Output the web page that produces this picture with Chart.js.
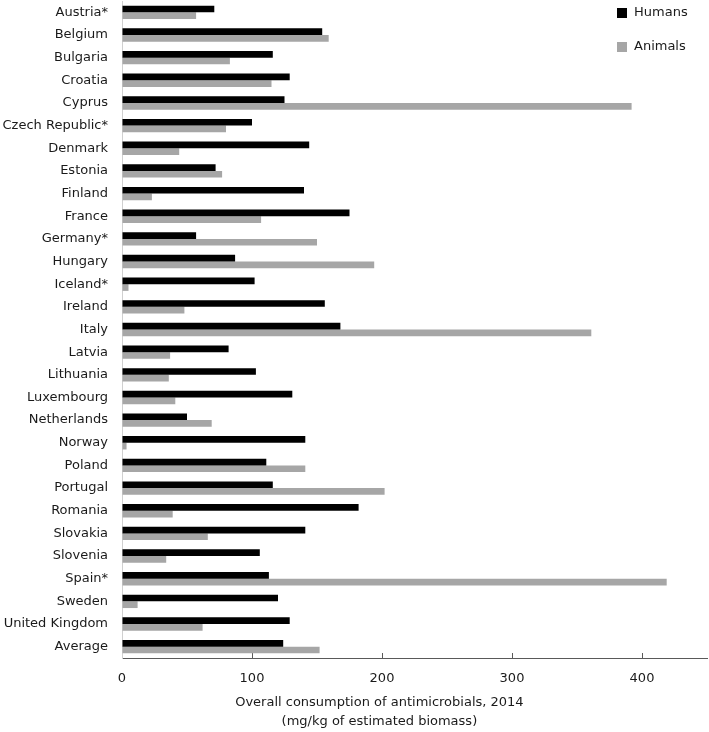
<!DOCTYPE html>
<html>
<head>
<meta charset="utf-8">
<script src="https://cdn.jsdelivr.net/npm/chart.js@4/dist/chart.umd.min.js"></script>
<style>
  html, body { margin: 0; padding: 0; background: #fff; }
  #wrap { width: 709px; height: 732px; position: relative; }
</style>
</head>
<body>
<div id="wrap"><canvas id="chart"></canvas></div>
<script>
// data
const countries = ['Austria*', 'Belgium', 'Bulgaria', 'Croatia', 'Cyprus', 'Czech Republic*', 'Denmark', 'Estonia', 'Finland', 'France',
    'Germany*', 'Hungary', 'Iceland*', 'Ireland', 'Italy', 'Latvia', 'Lithuania', 'Luxembourg', 'Netherlands', 'Norway',
    'Poland', 'Portugal', 'Romania', 'Slovakia', 'Slovenia', 'Spain*', 'Sweden', 'United Kingdom', 'Average'];
const humans = [71, 154, 116, 129, 125, 100, 144, 72, 140, 175,
    57, 87, 102, 156, 168, 82, 103, 131, 50, 141,
    111, 116, 182, 141, 106, 113, 120, 129, 124];
const animals = [57, 159, 83, 115, 392, 80, 44, 77, 23, 107,
    150, 194, 5, 48, 361, 37, 36, 41, 69, 3.5,
    141, 202, 39, 66, 34, 419, 12, 62, 152];
const xTicks = [0, 100, 200, 300, 400];
const xTitle = ['Overall consumption of antimicrobials, 2014', '(mg/kg of estimated biomass)'];

const FONT = 'DejaVu Sans';
const TEXT = '#1a1a1a';

// legend + axis title drawn on the canvas
const extras = {
    id: 'extras',
    afterDraw(chart) {
        const { ctx, chartArea } = chart;
        ctx.save();
        ctx.font = `13px "${FONT}"`;
        ctx.textBaseline = 'middle';
        chart.data.datasets.forEach((ds, i) => {
            const y = 13 + i * 34;
            ctx.fillStyle = ds.backgroundColor;
            ctx.fillRect(617, y - 5, 10, 10);
            ctx.fillStyle = TEXT;
            ctx.textAlign = 'left';
            ctx.fillText(ds.label, 634, y);
        });
        ctx.fillStyle = TEXT;
        ctx.textAlign = 'center';
        const cx = chartArea.left + 0.44 * (chartArea.right - chartArea.left);
        ctx.fillText(xTitle[0], cx, chartArea.bottom + 45);
        ctx.fillText(xTitle[1], cx, chartArea.bottom + 64);
        ctx.restore();
    }
};

// fixed axis sizes, no extra label padding
const fixSize = (w, h) => s => {
    if (w != null) s.width = w;
    if (h != null) s.height = h;
    s.paddingTop = s.paddingBottom = s.paddingLeft = s.paddingRight = 0;
};

new Chart(document.getElementById('chart'), {
    type: 'bar',
    data: {
        labels: countries,
        datasets: [
            { label: 'Humans', data: humans, backgroundColor: '#000000', categoryPercentage: 0.59, barPercentage: 1 },
            { label: 'Animals', data: animals, backgroundColor: '#a6a6a6', categoryPercentage: 0.59, barPercentage: 1 }
        ]
    },
    options: {
        indexAxis: 'y',
        responsive: true, maintainAspectRatio: false, animation: false,
        layout: { padding: { top: 1, right: 2, bottom: 0, left: 0 } },
        plugins: { legend: { display: false }, tooltip: { enabled: false } },
        scales: {
            x: {
                min: 0, max: 450,
                afterBuildTicks: s => { s.ticks = xTicks.map(v => ({ value: v })); },
                afterFit: fixSize(null, 74),
                grid: { drawOnChartArea: false, tickLength: -5, color: '#595959' },
                border: { color: '#595959', width: 1 },
                ticks: { padding: 18, color: TEXT, font: { family: FONT, size: 13 } }
            },
            y: {
                afterFit: fixSize(122, null),
                grid: { display: false, drawTicks: false },
                border: { color: '#d0d0d0', width: 1 },
                ticks: { padding: 14, color: TEXT, font: { family: FONT, size: 13 } }
            }
        }
    },
    plugins: [extras]
});
</script>
</body>
</html>
